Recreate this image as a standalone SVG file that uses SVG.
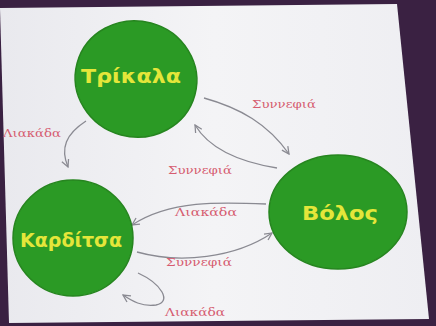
<svg xmlns="http://www.w3.org/2000/svg" width="436" height="326" viewBox="0 0 436 326">
<style>
.node{fill:#2b9a25;stroke:#26851f;stroke-width:1.5}
.nt{font-family:"DejaVu Sans",sans-serif;font-weight:bold;font-size:20px;fill:#e4e63a;text-anchor:middle;dominant-baseline:central}
.lbl{font-family:"DejaVu Serif",serif;font-size:11.5px;fill:#d65c70;text-anchor:middle;dominant-baseline:central}
.edge{fill:none;stroke:#8a8a92;stroke-width:1.3;marker-end:url(#ah)}
</style>
<defs>
<marker id="ah" viewBox="0 0 10 10" refX="9" refY="5" markerWidth="9" markerHeight="9" orient="auto" markerUnits="userSpaceOnUse">
<path d="M1,1 L9,5 L1,9" fill="none" stroke="#8a8a92" stroke-width="1.4"/>
</marker>
<linearGradient id="bg" x1="0" y1="0" x2="1" y2="0">
<stop offset="0" stop-color="#e9e9ee"/>
<stop offset="0.5" stop-color="#f4f4f6"/>
<stop offset="1" stop-color="#eeeef2"/>
</linearGradient>
</defs>
<rect width="436" height="326" fill="#3a2142"/>
<polygon points="0,8 397,4 429,319 9,323" fill="url(#bg)"/>
<g id="connectors">
<path class="edge" d="M86,121 C66,134 60,148 68,167"/>
<path class="edge" d="M204,98 C240,108 268,124 289,154"/>
<path class="edge" d="M277,168 C240,162 210,150 195,125"/>
<path class="edge" d="M266,204 C220,202 170,200 132,225"/>
<path class="edge" d="M137,252 C180,264 235,258 272,233"/>
<path class="edge" d="M138,273 C162,284 172,302 156,305 C142,307 132,301 123,295"/>
</g>
<g id="trikala"><ellipse class="node" cx="136" cy="79" rx="61" ry="58" transform="rotate(15 136 79)"/><text class="nt" x="131" y="76" textLength="100" lengthAdjust="spacingAndGlyphs">Τρίκαλα</text></g>
<g id="volos"><ellipse class="node" cx="338" cy="212" rx="69" ry="57"/><text class="nt" x="340" y="213" textLength="76" lengthAdjust="spacingAndGlyphs">Βόλος</text></g>
<g id="karditsa"><ellipse class="node" cx="73" cy="238" rx="60" ry="58"/><text class="nt" x="71" y="240" textLength="102" lengthAdjust="spacingAndGlyphs">Καρδίτσα</text></g>
<g id="labels">
<text class="lbl" x="32" y="133" textLength="58" lengthAdjust="spacingAndGlyphs">Λιακάδα</text>
<text class="lbl" x="284" y="104" textLength="64" lengthAdjust="spacingAndGlyphs">Συννεφιά</text>
<text class="lbl" x="200" y="170" textLength="64" lengthAdjust="spacingAndGlyphs">Συννεφιά</text>
<text class="lbl" x="206" y="212" textLength="62" lengthAdjust="spacingAndGlyphs">Λιακάδα</text>
<text class="lbl" x="199" y="262" textLength="66" lengthAdjust="spacingAndGlyphs">Συννεφιά</text>
<text class="lbl" x="195" y="312" textLength="60" lengthAdjust="spacingAndGlyphs">Λιακάδα</text>
</g>
</svg>
